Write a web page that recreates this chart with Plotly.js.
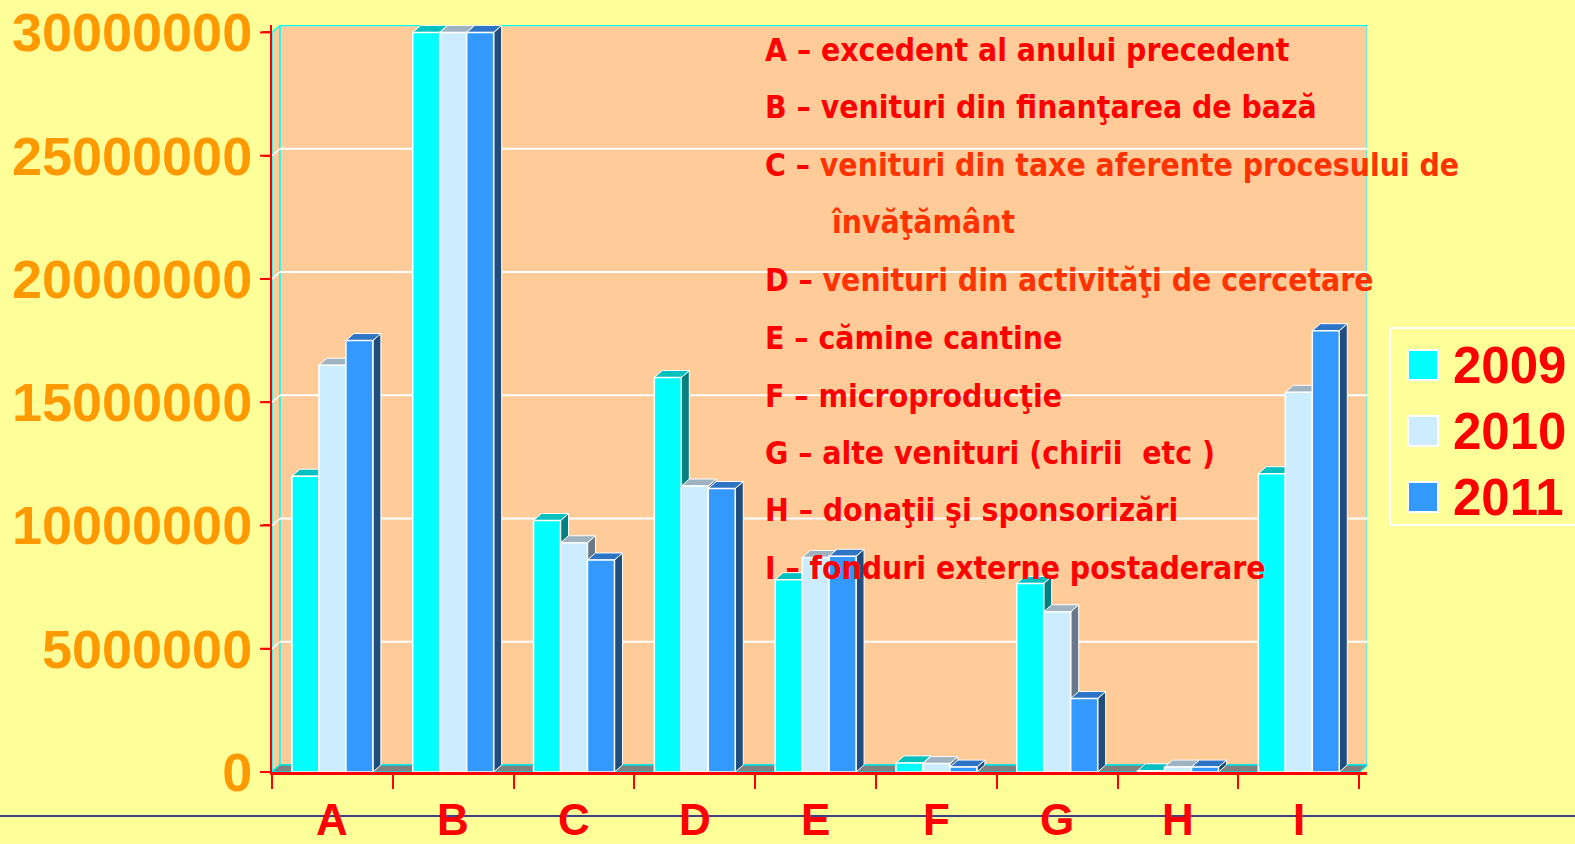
<!DOCTYPE html>
<html>
<head>
<meta charset="utf-8">
<script src="https://cdn.plot.ly/plotly-3.0.1.min.js"></script>
<style>html,body{margin:0;padding:0;background:#FFFF99;}#chart{width:1575px;height:844px;}</style>
</head>
<body>
<div id="chart"></div>
<script>
// ---- data ----
const categories = ['A','B','C','D','E','F','G','H','I'];
const years = ['2009','2010','2011'];
const v2009 = [12.0e6, 30.0e6, 10.2e6, 16.0e6, 7.8e6, 0.37e6, 7.65e6, 0.05e6, 12.1e6];
const v2010 = [16.5e6, 30.0e6, 9.3e6, 11.6e6, 8.7e6, 0.34e6, 6.5e6, 0.2e6, 15.4e6];
const v2011 = [17.5e6, 30.0e6, 8.6e6, 11.5e6, 8.75e6, 0.2e6, 2.98e6, 0.2e6, 17.9e6];
const yTickVals = [0, 5000000, 10000000, 15000000, 20000000, 25000000, 30000000];
const yTickText = ['0','5000000','10000000','15000000','20000000','25000000','30000000'];
const notes = [
  ['A – ', 'excedent al anului precedent', false],
  ['B – ', 'venituri din finanţarea de bază', false],
  ['C – ', 'venituri din taxe aferente procesului de', true],
  ['', 'învăţământ', true],
  ['D – ', 'venituri din activităţi de cercetare', true],
  ['E – ', 'cămine cantine', false],
  ['F – ', 'microproducţie', false],
  ['G – ', 'alte venituri (chirii  etc )', false],
  ['H – ', 'donaţii şi sponsorizări', false],
  ['I – ', 'fonduri externe postaderare', false]
];

// ---- style ----
const series = [v2009, v2010, v2011];
const frontCol = ['#00FFFF', '#CCECFF', '#3399FF'];
const topCol   = ['#00C0C0', '#9FB2C0', '#2E74C4'];
const sideCol  = ['#008080', '#66788A', '#1F4E7E'];
const L = 272, R = 208, T = 25, B = 72, W = 1575, H = 844;
const PW = W - L - R, PH = H - T - B;
const xMax = -0.5 + PW / 120.8;
const yMax = 30.3e6;
const dx = 8 / 120.8;
const dy = 7 * yMax / PH;
const bargap = 0.33;
const bw = (1 - bargap) / 3;
const pxX = px => (px - L) / PW;
const pxY = py => (H - B - py) / PH;
const noteFont = "'DejaVu Sans Condensed', 'DejaVu Sans', sans-serif";

const traces = series.map((vals, k) => ({
  type: 'bar', name: years[k],
  x: categories.map((c, i) => i), y: vals,
  marker: {color: frontCol[k], line: {color: '#FFFFFF', width: 1.5}},
  showlegend: false, hoverinfo: 'x+y'
}));

const shapes = [];
// left side wall
shapes.push({type:'path', xref:'x', yref:'y', layer:'below',
  path:`M -0.5 0 L -0.5 30000000 L ${-0.5+dx} ${30000000+dy} L ${-0.5+dx} ${dy} Z`,
  fillcolor:'#FFCC99', line:{color:'#00FFFF', width:1.5}});
// back wall
shapes.push({type:'rect', xref:'x', yref:'y', layer:'below',
  x0:-0.5+dx, x1:8.5+dx, y0:dy, y1:30000000+dy,
  fillcolor:'#FFCC99', line:{color:'#00FFFF', width:1.5}});
// grid lines
yTickVals.slice(1, -1).forEach(v => {
  shapes.push({type:'line', xref:'x', yref:'y', layer:'below',
    x0:-0.5+dx, x1:8.5+dx, y0:v+dy, y1:v+dy, line:{color:'#FFFFFF', width:2}});
  shapes.push({type:'line', xref:'x', yref:'y', layer:'below',
    x0:-0.5, x1:-0.5+dx, y0:v, y1:v+dy, line:{color:'#FFFFFF', width:1.5}});
});
// y tick marks (full length, left of axis)
yTickVals.forEach(v => {
  shapes.push({type:'line', xref:'paper', yref:'paper',
    x0:pxX(260), x1:pxX(272), y0:v / yMax, y1:v / yMax, line:{color:'#FF0000', width:2}});
});
// floor
shapes.push({type:'path', xref:'x', yref:'y', layer:'below',
  path:`M -0.5 0 L 8.5 0 L ${8.5+dx} ${dy} L ${-0.5+dx} ${dy} Z`,
  fillcolor:'#808080', line:{color:'#00E0E0', width:1.5}});
// 3D faces of bars
series.forEach((vals, k) => {
  vals.forEach((v, i) => {
    const x0 = i - 1.5 * bw + k * bw, x1 = x0 + bw;
    shapes.push({type:'path', xref:'x', yref:'y', layer:'below',
      path:`M ${x1} 0 L ${x1} ${v} L ${x1+dx} ${v+dy} L ${x1+dx} ${dy} Z`,
      fillcolor:sideCol[k], line:{color:'#FFFFFF', width:1}});
    shapes.push({type:'path', xref:'x', yref:'y', layer:'below',
      path:`M ${x0} ${v} L ${x1} ${v} L ${x1+dx} ${v+dy} L ${x0+dx} ${v+dy} Z`,
      fillcolor:topCol[k], line:{color:'#FFFFFF', width:1}});
  });
});
// navy line under axis
shapes.push({type:'line', xref:'paper', yref:'paper',
  x0:pxX(0), x1:pxX(W), y0:pxY(816), y1:pxY(816), line:{color:'#000080', width:1.5}});
// legend box and swatches
shapes.push({type:'rect', xref:'paper', yref:'paper',
  x0:pxX(1390), x1:pxX(1590), y0:pxY(525), y1:pxY(328), line:{color:'#FFFFFF', width:2}});
const legY = [365, 431, 497];
years.forEach((y, k) => {
  shapes.push({type:'rect', xref:'paper', yref:'paper',
    x0:pxX(1408), x1:pxX(1438), y0:pxY(legY[k]+15), y1:pxY(legY[k]-15),
    fillcolor:frontCol[k], line:{color:'#FFFFFF', width:2}});
});

const annotations = [];
categories.forEach((c, i) => {
  annotations.push({xref:'x', yref:'paper', x:i, y:pxY(820), yanchor:'middle', xanchor:'center',
    text:'<b>'+c+'</b>', showarrow:false,
    font:{family:'Liberation Sans, Arial, sans-serif', size:44, color:'#FF0000'}});
});
years.forEach((y, k) => {
  annotations.push({xref:'paper', yref:'paper', x:pxX(1451), y:pxY(legY[k]), xanchor:'left', yanchor:'middle',
    text:'<b>'+y+'</b>', showarrow:false,
    font:{family:'Liberation Sans, Arial, sans-serif', size:51, color:'#FF0000'}});
});
const noteY = [50, 107, 165, 222, 280, 338, 396, 453, 510, 568];
notes.forEach((n, j) => {
  const rest = n[2] ? `<span style="color:#FF3300">${n[1]}</span>` : n[1];
  annotations.push({xref:'paper', yref:'paper', x:pxX(n[0] === '' ? 829 : 763), y:pxY(noteY[j]),
    xanchor:'left', yanchor:'middle', showarrow:false,
    text:'<b>' + n[0] + rest + '</b>',
    font:{family:noteFont, size:31.6, color:'#FF0000'}});
});

const layout = {
  width: W, height: H,
  paper_bgcolor: '#FFFF99', plot_bgcolor: 'rgba(0,0,0,0)',
  margin: {l: L, r: R, t: T, b: B, pad: 0},
  barmode: 'group', bargap: bargap, bargroupgap: 0,
  showlegend: false,
  xaxis: {range: [-0.5, xMax], tickmode: 'array',
    tickvals: [-0.5,0.5,1.5,2.5,3.5,4.5,5.5,6.5,7.5,8.5], ticktext: ['','','','','','','','','',''],
    ticks: 'outside', ticklen: 14, tickwidth: 2, tickcolor: '#FF0000',
    showline: true, linecolor: '#FF0000', linewidth: 3, showgrid: false, zeroline: false, fixedrange: true},
  yaxis: {range: [0, yMax], tickmode: 'array', tickvals: yTickVals, ticktext: yTickText,
    ticks: 'outside', ticklen: 7, tickwidth: 2, tickcolor: '#FF0000',
    showline: true, linecolor: '#FF0000', linewidth: 2, showgrid: false, zeroline: false,
    tickfont: {family: 'Liberation Sans, Arial, sans-serif', size: 54, color: '#FF9900', weight: 'bold'},
    ticklabelstandoff: 0, fixedrange: true},
  shapes: shapes,
  annotations: annotations
};

Plotly.newPlot('chart', traces, layout, {displayModeBar: false, staticPlot: true});
</script>
</body>
</html>
